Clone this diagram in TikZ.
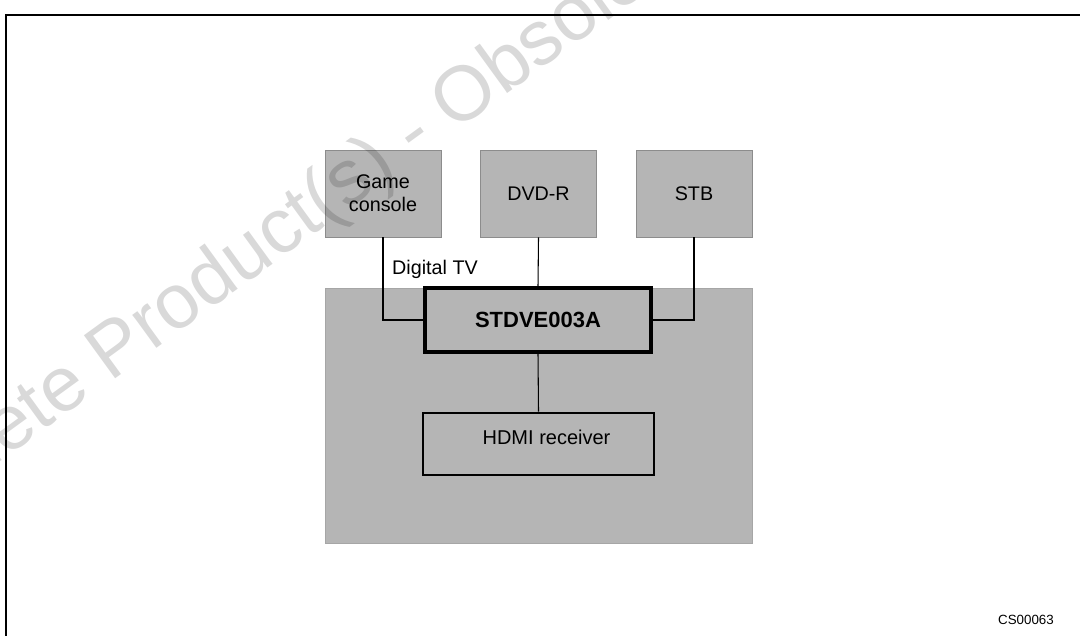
\documentclass[tikz,border=0pt]{standalone}
\usepackage{fontspec}
\setmainfont{Liberation Sans}
\definecolor{boxgray}{RGB}{181,181,181}
\begin{document}
\begin{tikzpicture}[x=0.75pt, y=-0.75pt, font=\fontsize{14.8}{17}\selectfont,
  srcbox/.style={fill=boxgray, draw=black!45, line width=0.5pt, minimum width=87pt, minimum height=65.25pt, inner sep=0pt, align=center},
  hostbox/.style={fill=boxgray, draw=black!35, line width=0.5pt, minimum width=320.25pt, minimum height=191.25pt, inner sep=0pt},
  chipbox/.style={fill=boxgray, draw=black, line width=2.4pt, minimum width=169.5pt, minimum height=48pt, inner sep=0pt},
  wire/.style={line width=0.8pt},
  watermark/.style={text=black, text opacity=0.15, rotate=36, font=\fontsize{58}{60}\selectfont}]
\useasboundingbox (0,0) rectangle (1080,635);
\clip (0,0) rectangle (1080,635);
\draw[line width=1.5pt] (1100,15) -- (6,15) -- (6,660);
\node[hostbox] (host) at (538.5,415.5) {};
\node[srcbox] (game) at (383,193.5) {Game\\console};
\node[srcbox] (dvd) at (538.5,193.5) {DVD-R};
\node[srcbox] (stb) at (694,193.5) {STB};
\node[chipbox, font=\fontsize{16.5}{18}\selectfont\bfseries] (chip) at (538,320) {STDVE003A};
\node[chipbox, line width=1.9pt, minimum width=173.25pt, minimum height=46.5pt,
  label={[xshift=6pt, yshift=5pt, font=\fontsize{15}{17}\selectfont]center:HDMI receiver}] (hdmi) at (538.5,444) {};
\draw[wire] (game.south) |- (chip.west);
\draw[wire] (dvd.south) -- (chip.north);
\draw[wire] (stb.south) |- (chip.east);
\draw[wire] (chip.south) -- (hdmi.north);
\node (dtv) at (435,269) {Digital TV};
\node[font=\fontsize{10}{12}\selectfont] (code) at (1026,620) {CS00063};
\node[watermark] (wm) at (415,136) {Obsolete Product(s) - Obsolete Product(s)};
\end{tikzpicture}
\end{document}
